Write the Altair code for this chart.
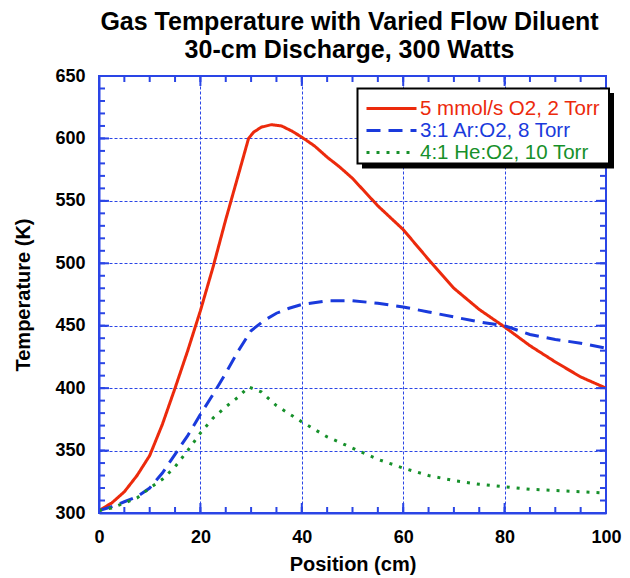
import altair as alt
import pandas as pd

# ---------------- data ----------------
series_names = ["5 mmol/s O2, 2 Torr", "3:1 Ar:O2, 8 Torr", "4:1 He:O2, 10 Torr"]
series_colors = ["#ec2a0c", "#1a3adc", "#16902a"]
series_dashes = [[1, 0], [14, 8], [3, 7]]

pos_red = [0, 2.5, 5, 7.5, 10, 12.5, 15, 17.5, 20, 22.5, 25, 27.5, 29.5, 30.5, 32, 34,
           36, 38, 40, 42.5, 45, 47.5, 50, 55, 60, 65, 70, 75, 80, 85, 90, 95, 100]
temp_red = [302, 308, 317, 330, 346, 371, 400, 430, 462, 497, 535, 571, 600, 605, 609, 611,
            610, 606, 601, 594, 585, 577, 568, 546, 527, 503, 480, 463, 449, 434, 421, 409, 400]

pos_blue = [0, 2.5, 5, 7.5, 10, 12.5, 15, 17.5, 20, 22.5, 25, 27.5, 30, 32.5, 35, 37.5,
            40, 45, 50, 55, 60, 65, 70, 75, 80, 85, 90, 95, 100]
temp_blue = [302, 305, 309, 313, 320, 332, 347, 362, 379, 395, 412, 430, 446, 454, 460, 464,
             467, 470, 470, 468, 465, 461, 457, 453, 450, 443, 439, 436, 432]

pos_green = [0, 2.5, 5, 7.5, 10, 12.5, 15, 17.5, 20, 22.5, 25, 27.5, 29.5, 32, 35, 40,
             45, 50, 55, 60, 65, 70, 75, 80, 85, 90, 95, 100]
temp_green = [302, 304, 308, 312, 320, 327, 337, 350, 364, 376, 385, 393, 401, 397, 386, 373,
              361, 352, 343, 336, 330, 326, 323, 321, 319, 318, 317, 316]

x_major = [0, 20, 40, 60, 80, 100]
x_minor = [0, 5, 10, 15, 20, 25, 30, 35, 40, 45, 50, 55, 60, 65, 70, 75, 80, 85, 90, 95, 100]
y_major = [300, 350, 400, 450, 500, 550, 600, 650]
y_minor = [300, 310, 320, 330, 340, 350, 360, 370, 380, 390, 400, 410, 420, 430, 440, 450,
           460, 470, 480, 490, 500, 510, 520, 530, 540, 550, 560, 570, 580, 590, 600, 610,
           620, 630, 640, 650]

rows = []
for name, xs, ys in zip(series_names, [pos_red, pos_blue, pos_green],
                        [temp_red, temp_blue, temp_green]):
    for xv, yv in zip(xs, ys):
        rows.append({"series": name, "pos": xv, "temp": yv})
df = pd.DataFrame(rows)

# ---------------- style ----------------
W, H = 507, 437
AX = "#2a45e6"
FONT = "Liberation Sans"

xscale = alt.Scale(domain=[0, 100], nice=False, zero=False)
yscale = alt.Scale(domain=[300, 650], nice=False, zero=False)

label_color_expr = (
    "datum.value == '" + series_names[0] + "' ? '" + series_colors[0] + "' : "
    "datum.value == '" + series_names[1] + "' ? '" + series_colors[1] + "' : '"
    + series_colors[2] + "'"
)

legend = alt.Legend(
    title=None, orient="none", legendX=258, legendY=12,
    symbolType="M-2.5,0H2.5", symbolSize=400, symbolStrokeWidth=3,
    symbolOffset=14, labelOffset=17,
    labelFont=FONT, labelFontSize=20.5, labelLimit=400,
    labelColor={"expr": label_color_expr},
    padding=9, rowPadding=0, fillColor="transparent", strokeColor="transparent",
)

lines = alt.Chart(df).mark_line(strokeWidth=3, clip=True).encode(
    x=alt.X("pos:Q", scale=xscale,
            axis=alt.Axis(values=x_major, title="Position (cm)", labelPadding=15,
                          titlePadding=8, labelFlush=False)),
    y=alt.Y("temp:Q", scale=yscale,
            axis=alt.Axis(values=y_major, title="Temperature (K)", labelPadding=14,
                          titlePadding=21, labelFlush=False)),
    color=alt.Color("series:N", scale=alt.Scale(domain=series_names, range=series_colors),
                    legend=legend),
    strokeDash=alt.StrokeDash("series:N",
                              scale=alt.Scale(domain=series_names, range=series_dashes),
                              legend=legend),
)

# legend frame with drop shadow (decoration)
one = pd.DataFrame({"k": [0]})
shadow = alt.Chart(one).mark_rect(color="black").encode(
    x=alt.value(263), x2=alt.value(515), y=alt.value(17), y2=alt.value(92.5)
)
frame = alt.Chart(one).mark_rect(fill="white", stroke="black", strokeWidth=2).encode(
    x=alt.value(258.5), x2=alt.value(510), y=alt.value(12.5), y2=alt.value(87.5)
)

xmaj_df = pd.DataFrame({"pos": x_major})
xmin_df = pd.DataFrame({"pos": x_minor})
ymaj_df = pd.DataFrame({"temp": y_major})
ymin_df = pd.DataFrame({"temp": y_minor})


def xticks(d, length, bottom=True):
    y0, y1 = (H, H - length) if bottom else (0, length)
    return alt.Chart(d).mark_rule(color=AX, strokeWidth=2).encode(
        x=alt.X("pos:Q", scale=xscale), y=alt.value(y0), y2=alt.value(y1))


def yticks(d, length, left=True):
    x0, x1 = (0, length) if left else (W, W - length)
    return alt.Chart(d).mark_rule(color=AX, strokeWidth=2).encode(
        y=alt.Y("temp:Q", scale=yscale), x=alt.value(x0), x2=alt.value(x1))


ticks = [
    xticks(xmin_df, 6, True), xticks(xmaj_df, 10, True),
    xticks(xmin_df, 6, False), xticks(xmaj_df, 10, False),
    yticks(ymin_df, 6, True), yticks(ymaj_df, 10, True),
    yticks(ymin_df, 6, False), yticks(ymaj_df, 10, False),
]

chart = alt.layer(lines, *ticks, shadow, frame).properties(
    width=W, height=H,
    title=alt.Title(
        ["Gas Temperature with Varied Flow Diluent", "30-cm Discharge, 300 Watts"],
        font=FONT, fontSize=25, fontWeight="bold", anchor="middle", frame="group",
        lineHeight=28, color="black", offset=4, dx=-3,
    ),
    autosize=alt.AutoSizeParams(type="none"),
    padding={"left": 99, "top": 76, "right": 24, "bottom": 65},
).configure_axis(
    domainColor=AX, domainWidth=2, ticks=False, grid=True, gridColor=AX,
    gridDash=[3, 2], gridWidth=1, gridOpacity=1,
    labelFont=FONT, labelFontSize=18, labelFontWeight="bold", labelColor="black",
    titleFont=FONT, titleFontSize=20, titleFontWeight="bold", titleColor="black",
).configure_view(
    stroke=AX, strokeWidth=2
)

chart.save("out.html", embed_options={"renderer": "svg", "actions": False})
